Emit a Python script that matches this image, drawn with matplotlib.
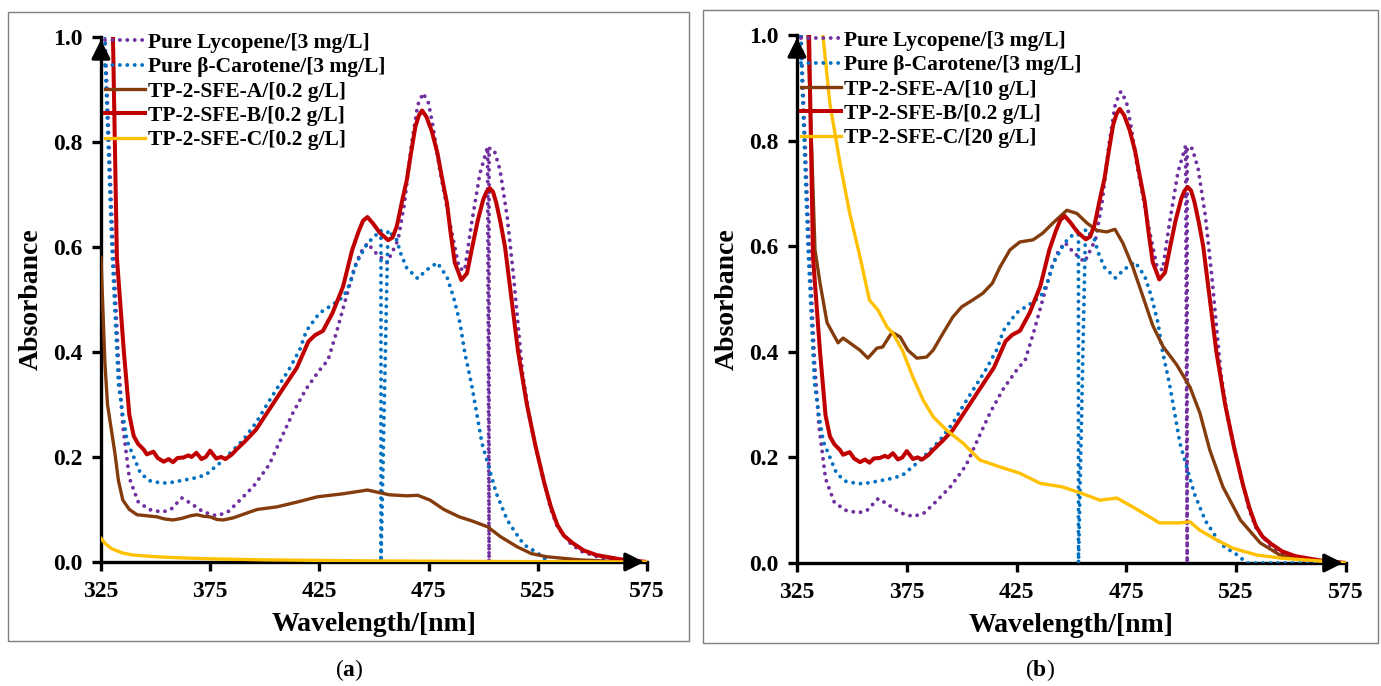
import numpy as np
import matplotlib.pyplot as plt
from matplotlib.patches import Rectangle

plt.rcParams['font.family'] = ['Liberation Serif', 'DejaVu Serif']
plt.rcParams['font.weight'] = 'bold'
plt.rcParams['mathtext.fontset'] = 'custom'
plt.rcParams['mathtext.rm'] = 'Liberation Serif'
plt.rcParams['mathtext.bf'] = 'Liberation Serif:bold'

# ---- data (wavelength nm, absorbance) ----
wl_lyc = [325, 327, 330, 333, 335, 338, 342, 347, 353, 357, 362, 366, 372, 378, 383,
          388, 395, 402, 408, 413, 419, 425, 429, 433, 437, 441, 444, 447, 451, 456,
          461, 464, 467, 470, 472.5, 475, 477, 480, 485, 489, 491.5, 494.5, 498.5, 502,
          502.7, 502.7, 505, 507.7, 511, 514, 516, 518, 521, 524, 527.4, 531, 534, 540,
          545, 555, 575]
abs_lyc = [1.45, 0.98, 0.65, 0.38, 0.26, 0.16, 0.115, 0.10, 0.095, 0.10, 0.122, 0.112, 0.095,
           0.088, 0.095, 0.115, 0.145, 0.185, 0.24, 0.285, 0.33, 0.365, 0.385, 0.44, 0.50,
           0.56, 0.59, 0.607, 0.588, 0.57, 0.613, 0.684, 0.79, 0.87, 0.893, 0.874, 0.83,
           0.75, 0.64, 0.56, 0.555, 0.64, 0.74, 0.79, 0.0, 0.788, 0.785, 0.747, 0.657,
           0.54, 0.45, 0.36, 0.28, 0.22, 0.16, 0.10, 0.067, 0.035, 0.02, 0.006, 0.0]

wl_bcar = [325, 327, 330, 333, 335, 337, 340, 343, 347, 353, 358, 363, 368, 373, 377,
           381, 390, 396, 401, 411, 416, 419, 425, 431, 436, 439, 442, 447, 453.2,
           453.2, 456.4, 460.5, 462, 465, 470, 474, 479, 483.4, 486.4, 489.4, 491.6,
           494.6, 497, 499.4, 502, 506, 511, 517, 520, 524.3, 530, 575]
abs_bcar = [1.4, 0.95, 0.60, 0.34, 0.28, 0.23, 0.20, 0.17, 0.155, 0.15, 0.152, 0.156,
            0.16, 0.166, 0.18, 0.194, 0.232, 0.265, 0.30, 0.366, 0.404, 0.44, 0.474, 0.49,
            0.505, 0.53, 0.57, 0.607, 0.632, 0.0, 0.632, 0.613, 0.59, 0.56, 0.54, 0.556,
            0.57, 0.543, 0.505, 0.455, 0.398, 0.34, 0.284, 0.227, 0.189, 0.131, 0.08,
            0.042, 0.029, 0.019, 0.0, 0.0]

wl_b = [325, 330.5, 332.3, 335.5, 338, 340, 342, 344.6, 346, 349, 351, 353.7, 356, 358,
        360, 362.8, 365, 366.5, 368.7, 371, 373, 375, 377.8, 380, 382, 385, 387, 391,
        396, 402, 408, 414.7, 420, 423, 426.6, 431, 435.8, 440, 443, 445, 447, 449.5,
        452.7, 456.5, 458.5, 460.5, 463, 465, 467, 469, 470.5, 472, 474, 476.5, 479,
        481, 483.4, 485, 487, 490, 492.6, 495, 497.5, 500, 501.5, 503, 504.5, 506, 508,
        510, 513, 516, 520, 524, 528, 531, 534, 537, 541, 546, 552, 563, 575]
abs_b = [1.7, 1.0, 0.58, 0.40, 0.28, 0.24, 0.225, 0.214, 0.205, 0.21, 0.198, 0.191, 0.196,
         0.19, 0.198, 0.199, 0.203, 0.20, 0.208, 0.196, 0.20, 0.212, 0.197, 0.20, 0.196,
         0.205, 0.214, 0.23, 0.252, 0.29, 0.328, 0.37, 0.42, 0.432, 0.44, 0.474, 0.524,
         0.594, 0.63, 0.65, 0.657, 0.645, 0.627, 0.613, 0.618, 0.64, 0.69, 0.727, 0.78,
         0.83, 0.85, 0.86, 0.848, 0.82, 0.78, 0.735, 0.684, 0.63, 0.57, 0.537, 0.55, 0.60,
         0.65, 0.69, 0.705, 0.712, 0.705, 0.684, 0.645, 0.60, 0.50, 0.40, 0.30, 0.22,
         0.15, 0.105, 0.07, 0.05, 0.036, 0.022, 0.013, 0.005, 0.0]

# panel (a) extracts
wl_a_a = [325, 326.8, 328, 331.4, 333, 335, 338, 341.5, 346, 350.6, 354, 358, 362, 366,
          369, 372, 375, 378, 381, 385.5, 391, 396.5, 405.6, 414.7, 424, 436, 447, 457,
          465, 470, 475.6, 482, 489, 495, 502, 508, 515.5, 522, 529, 544, 560, 575]
abs_a_a = [0.58, 0.38, 0.30, 0.207, 0.155, 0.118, 0.10, 0.09, 0.088, 0.086, 0.082, 0.08,
           0.083, 0.088, 0.09, 0.087, 0.086, 0.081, 0.08, 0.084, 0.092, 0.10, 0.105,
           0.114, 0.124, 0.13, 0.137, 0.128, 0.126, 0.127, 0.118, 0.10, 0.086, 0.078,
           0.067, 0.048, 0.029, 0.016, 0.01, 0.004, 0.001, 0.0]

wl_c_a = [325, 327, 330, 335, 340, 350, 360, 375, 400, 425, 450, 500, 575]
abs_c_a = [0.045, 0.035, 0.025, 0.017, 0.013, 0.010, 0.008, 0.006, 0.004, 0.003, 0.002,
           0.001, 0.0]

# panel (b) extracts
wl_a_b = [325, 330, 333.2, 335.5, 338.7, 343.7, 346, 349, 353.7, 357.3, 361.4, 364, 368.3,
          372, 375.5, 379.6, 384, 387, 391.5, 396, 400, 405, 409.7, 414, 417.4, 422,
          426.5, 432.5, 437, 441.6, 447.9, 452.5, 457, 461.6, 466, 469.8, 473.4, 478,
          482.6, 487, 491.7, 498, 504, 508.5, 513, 519, 527, 536, 545, 557, 575]
abs_a_b = [1.3, 1.0, 0.593, 0.53, 0.455, 0.417, 0.426, 0.417, 0.403, 0.388, 0.407, 0.409,
           0.437, 0.428, 0.403, 0.388, 0.39, 0.403, 0.435, 0.466, 0.485, 0.498, 0.511,
           0.53, 0.56, 0.593, 0.608, 0.612, 0.625, 0.644, 0.668, 0.662, 0.644, 0.63, 0.627,
           0.632, 0.606, 0.56, 0.504, 0.45, 0.41, 0.375, 0.333, 0.284, 0.214, 0.144, 0.081,
           0.038, 0.015, 0.006, 0.0]

wl_c_b = [325, 330, 336.8, 340, 344.6, 349, 353.7, 358, 361.9, 366, 368.7, 373, 377.8,
          382.4, 387, 393, 400.6, 408.3, 417.4, 426.5, 435.7, 446, 453.9, 463, 470.7, 478,
          485.7, 490, 499, 504, 508.5, 516, 523.5, 534.5, 546, 569, 575]
abs_c_b = [1.6, 1.3, 1.0, 0.87, 0.757, 0.663, 0.58, 0.498, 0.479, 0.447, 0.435, 0.403,
           0.352, 0.309, 0.277, 0.252, 0.227, 0.195, 0.182, 0.17, 0.151, 0.144, 0.133,
           0.119, 0.123, 0.106, 0.087, 0.076, 0.076, 0.078, 0.062, 0.044, 0.028, 0.015,
           0.009, 0.002, 0.0]

labels_a = ['Pure Lycopene/[3 mg/L]', 'Pure β-Carotene/[3 mg/L]', 'TP-2-SFE-A/[0.2 g/L]',
            'TP-2-SFE-B/[0.2 g/L]', 'TP-2-SFE-C/[0.2 g/L]']
labels_b = ['Pure Lycopene/[3 mg/L]', 'Pure β-Carotene/[3 mg/L]', 'TP-2-SFE-A/[10 g/L]',
            'TP-2-SFE-B/[0.2 g/L]', 'TP-2-SFE-C/[20 g/L]']
x_ticks = [325, 375, 425, 475, 525, 575]
y_ticks = [0.0, 0.2, 0.4, 0.6, 0.8, 1.0]

c_lyc, c_bcar, c_a, c_b, c_c = '#7030A0', '#0070C0', '#843C0C', '#C00000', '#FFC000'
dots = (0, (0.01, 1.9))


def draw(ax, wl_a, abs_a, wl_c, abs_c, labels):
    ax.plot(wl_lyc, abs_lyc, color=c_lyc, lw=2.8, ls=dots, dash_capstyle='round',
            zorder=3, label=labels[0])
    ax.plot(wl_bcar, abs_bcar, color=c_bcar, lw=2.8, ls=dots, dash_capstyle='round',
            zorder=3, label=labels[1])
    ax.plot(wl_a, abs_a, color=c_a, lw=2.4, zorder=3, label=labels[2])
    ax.plot(wl_b, abs_b, color=c_b, lw=2.9, zorder=3, label=labels[3])
    ax.plot(wl_c, abs_c, color=c_c, lw=2.4, zorder=3, label=labels[4])

    ax.set_xlim(325, 575)
    ax.set_ylim(0, 1)
    ax.set_xticks(x_ticks)
    ax.set_yticks(y_ticks)
    ax.set_yticklabels([f'{v:.1f}' for v in y_ticks])
    for s in ['top', 'right']:
        ax.spines[s].set_visible(False)
    for s in ['left', 'bottom']:
        ax.spines[s].set_linewidth(2.4)
        ax.spines[s].set_zorder(2)
    ax.tick_params(direction='out', length=6.5, width=2.4, labelsize=17, pad=7)
    for t in ax.get_xticklabels() + ax.get_yticklabels():
        t.set_fontweight('bold')

    ax.set_xlabel('Wavelength/[nm]', fontsize=20, fontweight='bold')
    ax.set_ylabel('Absorbance', fontsize=20, fontweight='bold')
    ax.xaxis.set_label_coords(0.5, -0.095)
    ax.yaxis.set_label_coords(-0.105, 0.5)

    # arrow heads on both axes
    ax.annotate('', xy=(1.0, 0), xytext=(0.96, 0), xycoords='axes fraction',
                arrowprops=dict(arrowstyle='-|>', color='k', lw=2.4, mutation_scale=28),
                annotation_clip=False)
    ax.annotate('', xy=(0, 1.0), xytext=(0, 0.96), xycoords='axes fraction',
                arrowprops=dict(arrowstyle='-|>', color='k', lw=2.4, mutation_scale=28),
                annotation_clip=False)

    ax.legend(loc='upper left', bbox_to_anchor=(0.008, 1.008), frameon=False,
              borderpad=0, borderaxespad=0, handlelength=1.85, handletextpad=0.15,
              labelspacing=0.2, prop={'family': 'Liberation Serif', 'weight': 'bold',
                                      'size': 15.5})


fig = plt.figure(figsize=(13.81, 6.86), dpi=100)
ax_a = fig.add_axes([0.0731, 0.1808, 0.3954, 0.7653])
ax_b = fig.add_axes([0.5771, 0.1793, 0.3975, 0.7697])

draw(ax_a, wl_a_a, abs_a_a, wl_c_a, abs_c_a, labels_a)
draw(ax_b, wl_a_b, abs_a_b, wl_c_b, abs_c_b, labels_b)

# panel frames
fig.patches.append(Rectangle((8 / 1381, 1 - 641 / 686), 681 / 1381, 629 / 686,
                             transform=fig.transFigure, fill=False, ec='#7f7f7f', lw=1))
fig.patches.append(Rectangle((703 / 1381, 1 - 643 / 686), 675 / 1381, 633 / 686,
                             transform=fig.transFigure, fill=False, ec='#7f7f7f', lw=1))

fig.text(349 / 1381, 1 - 670 / 686, r'($\mathbf{a}$)', ha='center', va='center',
         fontsize=17, fontweight='normal')
fig.text(1040 / 1381, 1 - 670 / 686, r'($\mathbf{b}$)', ha='center', va='center',
         fontsize=17, fontweight='normal')

fig.savefig('out.png', dpi=100)
